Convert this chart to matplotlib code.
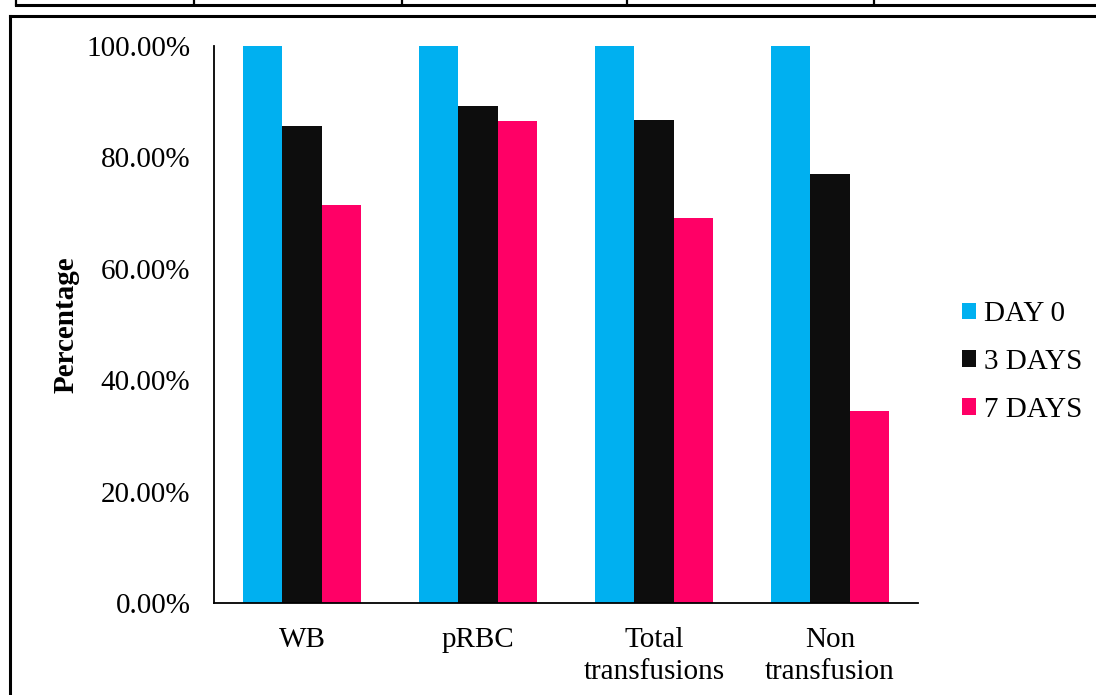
import matplotlib
matplotlib.use("Agg")
import matplotlib.pyplot as plt
from matplotlib.lines import Line2D
from matplotlib.ticker import FuncFormatter, MultipleLocator
import numpy as np

plt.rcParams['font.family'] = ['Liberation Serif', 'DejaVu Serif']

categories = ["WB", "pRBC", "Total\ntransfusions", "Non\ntransfusion"]
series_names = ["DAY 0", "3 DAYS", "7 DAYS"]
day0 = [100.0, 100.0, 100.0, 100.0]
days3 = [85.71, 89.19, 86.80, 77.00]
days7 = [71.43, 86.49, 69.20, 34.50]
colors = ["#00B0F0", "#0D0D0D", "#FF0066"]

W, H = 1096, 695
fig = plt.figure(figsize=(W / 100, H / 100), dpi=100)


def fx(px):
    return px / W


def fy(py):
    return 1 - py / H


# outer frame and the table rule above it
fig.add_artist(Line2D([fx(16), 1.0], [fy(4.5), fy(4.5)], color="black", lw=2.2))
for vx in [16, 194, 402, 627, 874]:
    fig.add_artist(Line2D([fx(vx), fx(vx)], [1.0, fy(4.5)], color="black", lw=1.6))
fig.add_artist(Line2D([fx(9.5), 1.0], [fy(16), fy(16)], color="black", lw=2.2))
fig.add_artist(Line2D([fx(9.5), fx(9.5)], [fy(16), 0.0], color="black", lw=2.2))

ax = fig.add_axes([fx(214), fy(603), (918 - 214) / W, (603 - 46) / H])

x = np.arange(len(categories))
w = 0.2216
for i, (vals, name, c) in enumerate(zip([day0, days3, days7], series_names, colors)):
    ax.bar(x + (i - 1) * w, np.array(vals) / 100.0, width=w, color=c, label=name,
           linewidth=0)

ax.set_xlim(-0.5, len(categories) - 0.5)
ax.set_ylim(0, 1.0)
ax.yaxis.set_major_locator(MultipleLocator(0.2))
ax.yaxis.set_major_formatter(FuncFormatter(lambda v, p: f"{v * 100:.2f}%"))
ax.set_xticks(x)
ax.set_xticklabels(categories, linespacing=1.32)
ax.tick_params(axis='both', length=0, labelsize=21, colors="black")
ax.tick_params(axis='y', pad=17)
ax.tick_params(axis='x', pad=17)

for s in ["top", "right"]:
    ax.spines[s].set_visible(False)
for s in ["left", "bottom"]:
    ax.spines[s].set_color("black")
    ax.spines[s].set_linewidth(1.3)

ax.set_ylabel("Percentage", fontsize=21, fontweight="bold", labelpad=5)

leg = fig.legend(loc="center left", bbox_to_anchor=(fx(950), fy(362)),
                 frameon=False, fontsize=21, handlelength=0.5, handleheight=0.5,
                 handletextpad=0.25, labelspacing=0.74, borderaxespad=0)

fig.savefig("out.png", dpi=100)
